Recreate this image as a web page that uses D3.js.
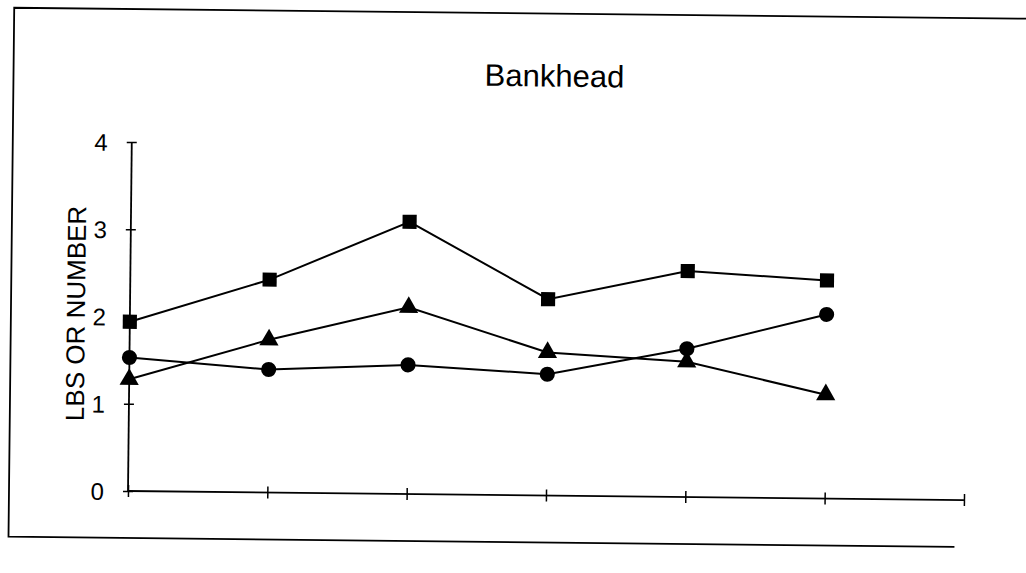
<!DOCTYPE html>
<html>
<head>
<meta charset="utf-8">
<script src="https://cdn.jsdelivr.net/npm/d3@7"></script>
<style>
  html, body { margin: 0; padding: 0; background: #fff; }
  svg { display: block; }
  text { font-family: "Liberation Sans", Arial, sans-serif; fill: #000; }
</style>
</head>
<body>
<svg id="chart" width="1026" height="573"></svg>
<script>
// ---- data ----
const title = "Bankhead";
const yLabel = "LBS OR NUMBER";
const categories = [0, 1, 2, 3, 4, 5];
const xTickPositions = [0, 1, 2, 3, 4, 5, 6];
const yTicks = [0, 1, 2, 3, 4];
const squareSeries = [1.94, 2.44, 3.12, 2.25, 2.59, 2.50];
const circleSeries = [1.53, 1.41, 1.48, 1.39, 1.70, 2.11];
const triangleSeries = [1.28, 1.75, 2.14, 1.64, 1.55, 1.19];

// ---- layout ----
const x0 = 128, x1 = 964, yTop = 142, yBot = 491;
const svg = d3.select("#chart");
// scanned original is slightly rotated; reproduce that tilt
const g = svg.append("g").attr("transform", `rotate(0.62, ${x0}, ${yBot})`);

// frame (right edge is cropped off in the original)
g.append("path")
  .attr("d", `M1100,9 L9,9 L9,538 L955,538`)
  .attr("fill", "none").attr("stroke", "#000").attr("stroke-width", 1.8);

const x = d3.scaleLinear().domain([0, 6]).range([x0, x1]);
const y = d3.scaleLinear().domain([0, 4]).range([yBot, yTop]);

// title
g.append("text").attr("x", 550).attr("y", 82)
  .attr("text-anchor", "middle").attr("font-size", 31).text(title);

// y label
g.append("text")
  .attr("transform", `translate(83, 314) rotate(-90)`)
  .attr("text-anchor", "middle").attr("font-size", 26).text(yLabel);

// y axis
const yAxis = g.append("g").attr("transform", `translate(${x0},0)`)
  .call(d3.axisLeft(y).tickValues(yTicks).tickFormat(d3.format("d")).tickSize(5).tickPadding(19));
yAxis.attr("font-size", null).attr("font-family", null);
yAxis.select(".domain").attr("d", `M0,${yTop}V${yBot}`).attr("stroke-width", 1.8);
yAxis.selectAll(".tick line").attr("x1", 5).attr("stroke-width", 1.5);
yAxis.selectAll(".tick text").style("font-size", "24px").attr("dy", "0.36em");

// x axis
const xAxis = g.append("g").attr("transform", `translate(0,${yBot})`)
  .call(d3.axisBottom(x).tickValues(xTickPositions).tickFormat("").tickSize(6));
xAxis.select(".domain").attr("d", `M${x0},0H${x1}`).attr("stroke-width", 1.8);
xAxis.selectAll(".tick line").attr("y1", -6).attr("stroke-width", 1.5);

// lines + markers
const line = d3.line().x((d, i) => x(categories[i])).y(d => y(d));
const series = [
  { values: squareSeries, symbol: d3.symbolSquare, size: 200 },
  { values: triangleSeries, symbol: d3.symbolTriangle, size: 160 },
  { values: circleSeries, symbol: d3.symbolCircle, size: 180 }
];
series.forEach(s => {
  g.append("path").datum(s.values)
    .attr("d", line).attr("fill", "none")
    .attr("stroke", "#000").attr("stroke-width", 2);
});
series.forEach(s => {
  g.selectAll(null).data(s.values).enter().append("path")
    .attr("transform", (d, i) => `translate(${x(categories[i])},${y(d)})`)
    .attr("d", d3.symbol().type(s.symbol).size(s.size))
    .attr("fill", "#000");
});
</script>
</body>
</html>
